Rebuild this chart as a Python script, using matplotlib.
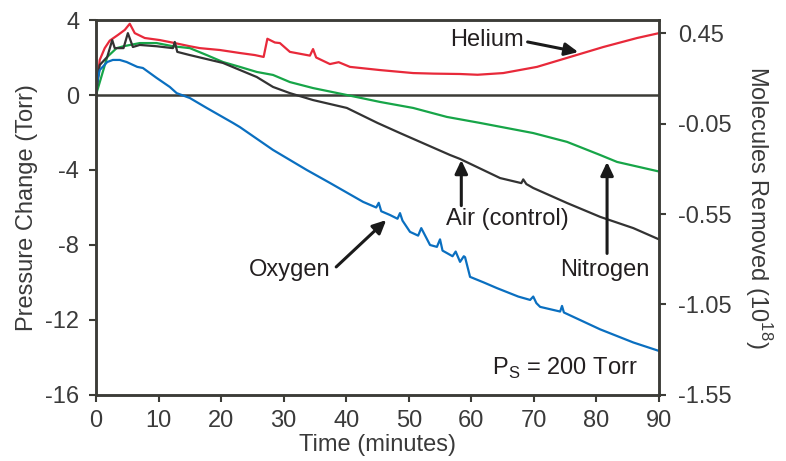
import matplotlib
matplotlib.use("Agg")
import matplotlib.pyplot as plt

plt.rcParams['font.family'] = ['Liberation Sans', 'DejaVu Sans']
plt.rcParams['axes.unicode_minus'] = False
plt.rcParams['mathtext.fontset'] = 'custom'
plt.rcParams['mathtext.rm'] = 'Liberation Sans'

# values (time in minutes, pressure change in Torr)
helium_t = [0, 0.6, 1.4, 2.2, 3.5, 4.6, 5.4, 6.2, 7.8, 10.2, 12.6, 15.0, 16.6, 19.8, 23.0, 25.4,
            26.8, 27.4, 28.0, 28.6, 29.4, 31.0, 34.2, 34.7, 35.2, 37.4, 38.8, 40.6, 45.4, 50.7,
            54.0, 58.2, 61.0, 65.1, 70.5, 75.8, 81.1, 86.5, 90]
helium_p = [0, 1.87, 2.5, 2.9, 3.2, 3.47, 3.8, 3.3, 3.04, 2.93, 2.77, 2.6, 2.5, 2.4, 2.24, 2.13,
            2.03, 3.0, 2.9, 2.8, 2.77, 2.3, 2.1, 2.45, 2.0, 1.65, 1.75, 1.5, 1.33, 1.17,
            1.14, 1.12, 1.08, 1.17, 1.5, 2.03, 2.56, 3.04, 3.3]

nitrogen_t = [0, 1.8, 3.3, 4.4, 7.0, 9.7, 12.3, 15.0, 17.7, 20.3, 23.0, 25.7, 28.3, 31.0, 34.7,
              40.1, 45.4, 50.7, 56.1, 61.4, 69.9, 75.3, 80.6, 83.3, 90]
nitrogen_p = [0, 2.03, 2.5, 2.6, 2.77, 2.77, 2.6, 2.5, 2.13, 1.76, 1.5, 1.23, 1.07, 0.69, 0.37,
              0.0, -0.37, -0.69, -1.17, -1.49, -2.03, -2.5, -3.2, -3.57, -4.08]

air_t = [0, 0.6, 1.8, 2.6, 3.0, 4.4, 5.1, 5.9, 7.0, 9.7, 12.3, 12.6, 13.0, 15.0, 20.3, 25.7,
         28.3, 31.0, 34.7, 40.1, 45.0, 48.6, 56.6, 58.2, 64.6, 68.0, 68.3, 68.8, 69.9, 75.3,
         80.6, 85.9, 90]
air_p = [0, 1.6, 2.03, 2.93, 2.5, 2.5, 3.3, 2.56, 2.67, 2.6, 2.5, 2.83, 2.3, 2.13, 1.71, 0.96,
         0.43, 0.1, -0.27, -0.69, -1.49, -2.03, -3.2, -3.41, -4.43, -4.7, -4.5, -4.75, -4.96, -5.76,
         -6.5, -7.1, -7.7]

oxygen_t = [0, 0.2, 0.6, 1.8, 2.7, 3.8, 4.9, 6.6, 7.5, 9.7, 11.8, 12.9, 15.0, 17.7, 21.9, 23.0,
            28.3, 33.7, 37.4, 42.7, 44.8, 45.2, 45.6, 47.0, 48.2, 48.6, 49.0, 50.2, 51.5, 52.0,
            53.4, 54.5, 55.0, 55.4, 56.1, 57.0, 57.5, 58.2, 58.8, 59.0, 59.8, 62.0, 64.1, 67.5,
            69.4, 69.9, 70.4, 71.0, 74.2, 74.5, 74.8, 80.6, 85.9, 90]
oxygen_p = [0, 0.7, 1.33, 1.76, 1.87, 1.87, 1.76, 1.5, 1.44, 0.91, 0.43, 0.1, -0.16, -0.69, -1.49,
            -1.71, -2.93, -4.0, -4.69, -5.7, -6.0, -5.75, -6.2, -6.4, -6.6, -6.3, -6.7, -7.3, -7.5,
            -7.1, -8.0, -8.1, -7.7, -8.3, -8.43, -8.6, -8.35, -8.9, -8.6, -8.65, -9.7, -10.0, -10.3,
            -10.75, -10.93, -10.75, -11.1, -11.3, -11.55, -11.25, -11.6, -12.5, -13.2, -13.65]

left_ticks = [4, 0, -4, -8, -12, -16]
right_ticks = [0.45, -0.05, -0.55, -1.05, -1.55]
x_ticks = [0, 10, 20, 30, 40, 50, 60, 70, 80, 90]

spine_col = '#3c3c37'
text_col = '#3a3a3a'

fig = plt.figure(figsize=(7.86, 4.61), dpi=100)
ax = fig.add_axes([0.1221, 0.1432, 0.7163, 0.8134])

kw = dict(lw=1.6, solid_joinstyle='round', solid_capstyle='round')
ax.plot(helium_t, helium_p, color='#e8293a', **kw)
ax.plot(nitrogen_t, nitrogen_p, color='#17a548', **kw)
ax.plot(air_t, air_p, color='#333333', **kw)
ax.plot(oxygen_t, oxygen_p, color='#0a6fc0', **kw)
ax.axhline(0, color=spine_col, lw=1.8, zorder=1)

ax.set_xlim(0, 90)
ax.set_ylim(-16, 4)
ax.set_xticks(x_ticks)
ax.set_yticks(left_ticks)
for s in ax.spines.values():
    s.set_color(spine_col)
    s.set_linewidth(1.8)
ax.tick_params(direction='out', length=5, width=1.5, color=spine_col,
               labelsize=17, labelcolor=text_col, pad=6)
ax.tick_params(axis='y', pad=7)
ax.set_xlabel('Time (minutes)', fontsize=17, color=text_col, labelpad=1)
ax.set_ylabel('Pressure Change (Torr)', fontsize=17, color=text_col, labelpad=5)

ax2 = ax.twinx()
ax2.set_ylim(-1.55, 0.522)
ax2.set_yticks(right_ticks)
ax2.set_yticklabels([f'{v:.2f}' for v in right_ticks])
ax2.tick_params(direction='out', length=5, width=1.5, color=spine_col,
                labelsize=17, labelcolor=text_col, pad=9)
for s in ax2.spines.values():
    s.set_color(spine_col)
    s.set_linewidth(1.8)
ax2.set_ylabel(r'Molecules Removed (10$^{18}$)', fontsize=17, color=text_col,
               rotation=270, labelpad=30)

arrow = dict(arrowstyle='-|>,head_length=0.8,head_width=0.38', color='#1a1a1a', lw=2.2,
             shrinkA=0, shrinkB=0)
ax.annotate('', xy=(77.1, 2.29), xytext=(69.0, 2.83), arrowprops=arrow)
ax.text(62.5, 2.93, 'Helium', fontsize=17, color='#231f20', ha='center', va='center')
ax.annotate('', xy=(58.4, -3.47), xytext=(58.4, -5.9), arrowprops=arrow)
ax.text(65.7, -6.61, 'Air (control)', fontsize=17, color='#231f20', ha='center', va='center')
ax.annotate('', xy=(81.7, -3.57), xytext=(81.7, -8.45), arrowprops=arrow)
ax.text(81.4, -9.33, 'Nitrogen', fontsize=17, color='#231f20', ha='center', va='center')
ax.annotate('', xy=(46.4, -6.67), xytext=(38.4, -9.17), arrowprops=arrow)
ax.text(31.0, -9.33, 'Oxygen', fontsize=17, color='#231f20', ha='center', va='center')
ax.text(75.0, -14.6, r'P$_\mathregular{S}$ = 200 Torr', fontsize=17, color='#231f20',
        ha='center', va='center')

fig.savefig('out.png', dpi=100)
